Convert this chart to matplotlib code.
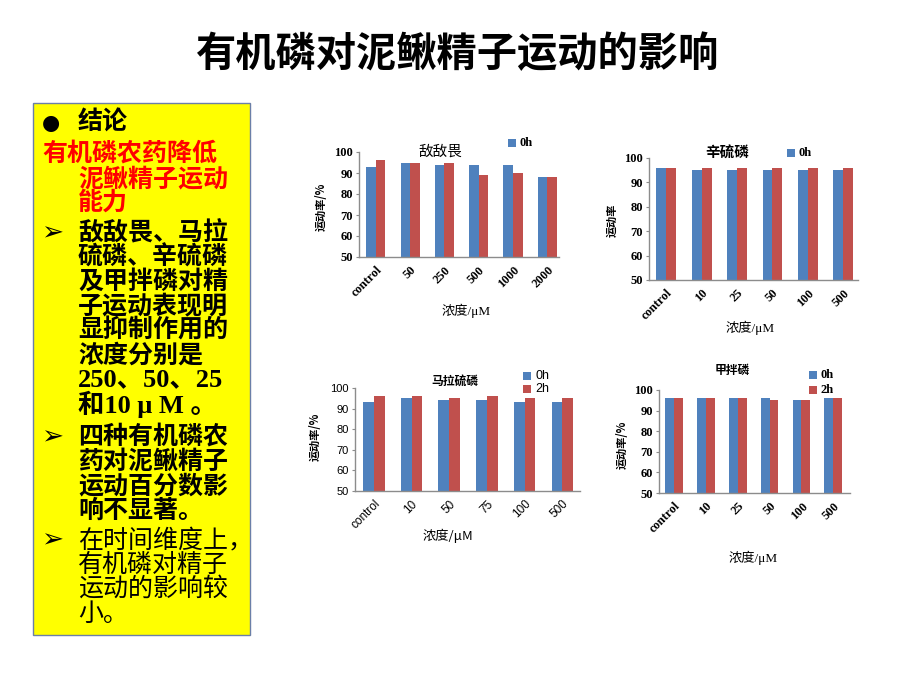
import matplotlib
matplotlib.use("Agg")
import matplotlib.pyplot as plt
import numpy as np
from matplotlib.patches import Rectangle

plt.rcParams['font.family'] = ['Noto Sans CJK SC', 'DejaVu Sans']

# ---------------- data ----------------
titles = ["敌敌畏", "辛硫磷", "马拉硫磷", "甲拌磷"]
cats_ddv = ["control", "50", "250", "500", "1000", "2000"]
cats_xll = ["control", "10", "25", "50", "100", "500"]
cats_mlll = ["control", "10", "50", "75", "100", "500"]
cats_jbl = ["control", "10", "25", "50", "100", "500"]

ddv_0h = [93, 95, 94, 94, 94, 88]
ddv_2h = [96, 95, 95, 89, 90, 88]
xll_0h = [96, 95, 95, 95, 95, 95]
xll_2h = [96, 96, 96, 96, 96, 96]
mlll_0h = [93, 95, 94, 94, 93, 93]
mlll_2h = [96, 96, 95, 96, 95, 95]
jbl_0h = [96, 96, 96, 96, 95, 96]
jbl_2h = [96, 96, 96, 95, 95, 96]

ylabels = ["运动率/%", "运动率", "运动率/%", "运动率/%"]
xlabel = "浓度/μM"
series_names = ["0h", "2h"]
yticks = [50, 60, 70, 80, 90, 100]

W, H = 920, 690
fig = plt.figure(figsize=(9.2, 6.9), dpi=100)
fig.patch.set_facecolor("white")


def fx(x):
    return x / W


def fy(y):
    return 1 - y / H


BLUE = "#4F81BD"
RED = "#C0504D"

serif_b = dict(family=['Liberation Serif', 'Noto Sans CJK SC'], weight='bold')
sans_n = dict(family=['Liberation Sans', 'Noto Sans CJK SC'], weight='normal')

# layout: (left, top, right, bottom) in pixels, xlim, fonts
charts = [
    dict(cats=cats_ddv, s0=ddv_0h, s1=ddv_2h, box=(359, 152, 559, 257), xlim=(-0.49, 5.34),
         tf=serif_b, title_xy=(440, 152), title_w='normal', title_fs=10.5, yfs=9, xfs=9,
         ylab_xy=(321, 207), xlab_xy=(466, 311), leg=[(512, 143)], bw=0.28),
    dict(cats=cats_xll, s0=xll_0h, s1=xll_2h, box=(649, 158, 858, 280), xlim=(-0.49, 5.42),
         tf=serif_b, title_xy=(727, 153), title_w='bold', title_fs=10.5, yfs=9, xfs=9,
         ylab_xy=(612, 220), xlab_xy=(750, 328), leg=[(791, 153)], bw=0.28),
    dict(cats=cats_mlll, s0=mlll_0h, s1=mlll_2h, box=(355, 388, 580, 491), xlim=(-0.5, 5.47),
         tf=sans_n, title_xy=(455, 381), title_w='bold', title_fs=8.5, yfs=8, xfs=8.5,
         ylab_xy=(315, 437), xlab_xy=(448, 536), leg=[(527, 376), (527, 389)], bw=0.285),
    dict(cats=cats_jbl, s0=jbl_0h, s1=jbl_2h, box=(659, 390, 850, 493), xlim=(-0.46, 5.52),
         tf=serif_b, title_xy=(732, 370), title_w='bold', title_fs=8.5, yfs=9, xfs=9,
         ylab_xy=(622, 445), xlab_xy=(753, 558), leg=[(813, 375), (813, 390)], bw=0.28),
]

for i, c in enumerate(charts):
    l, t, r, b = c["box"]
    ax = fig.add_axes([fx(l), fy(b), fx(r) - fx(l), fy(t) - fy(b)])
    x = np.arange(len(c["cats"]))
    bw = c["bw"]
    b0 = ax.bar(x - bw / 2, c["s0"], width=bw, color=BLUE, label=series_names[0])
    b1 = ax.bar(x + bw / 2, c["s1"], width=bw, color=RED, label=series_names[1])
    ax.set_ylim(50, 100)
    ax.set_xlim(*c["xlim"])
    ax.set_yticks(yticks)
    ax.set_xticks(x)
    tf = c["tf"]
    ax.set_yticklabels([str(v) for v in yticks], fontsize=c["yfs"], **tf)
    ax.set_xticklabels(c["cats"], rotation=45, ha='right', va='top',
                       rotation_mode='anchor', fontsize=c["xfs"], **tf)
    for s in ["top", "right"]:
        ax.spines[s].set_visible(False)
    for s in ["left", "bottom"]:
        ax.spines[s].set_color("#8c8c8c")
        ax.spines[s].set_linewidth(1.0)
    ax.tick_params(axis='y', length=2.5, width=0.8, color="#8c8c8c", pad=2)
    ax.tick_params(axis='x', length=0, pad=5)
    ax.patch.set_alpha(0)

    # title
    fig.text(fx(c["title_xy"][0]), fy(c["title_xy"][1]), titles[i], ha='center', va='center',
             fontsize=c["title_fs"], fontweight=c["title_w"])
    # y label
    fig.text(fx(c["ylab_xy"][0]), fy(c["ylab_xy"][1]), ylabels[i], ha='center', va='center',
             rotation=90, fontsize=8, fontweight='bold',
             family=['Noto Sans CJK SC', 'DejaVu Sans'])
    # x label
    if tf is serif_b:
        xl_fam = ['Liberation Serif', 'Noto Sans CJK SC']
    else:
        xl_fam = ['Noto Sans CJK SC', 'DejaVu Sans']
    fig.text(fx(c["xlab_xy"][0]), fy(c["xlab_xy"][1]), xlabel, ha='center', va='center',
             fontsize=9.5, family=xl_fam)
    # legend
    for k, (lx, ly) in enumerate(c["leg"]):
        sq = 8
        fig.patches.append(Rectangle((fx(lx - sq / 2), fy(ly + sq / 2)), sq / W, sq / H,
                                     transform=fig.transFigure, facecolor=[BLUE, RED][k],
                                     edgecolor='none'))
        fig.text(fx(lx + 8), fy(ly), series_names[k], ha='left', va='center',
                 fontsize=9, **tf)

# ---------------- main title ----------------
fig.text(fx(458), fy(55), "有机磷对泥鳅精子运动的影响", ha='center', va='center',
         fontsize=29, fontweight='bold')

# ---------------- yellow text box ----------------
fig.patches.append(Rectangle((fx(33), fy(635)), (250 - 33) / W, (635 - 103) / H,
                             transform=fig.transFigure, facecolor="#FFFF00",
                             edgecolor="#6b7fa8", linewidth=1.0))

FS = 18
cjk_b = dict(fontsize=FS, fontweight='bold', family=['Noto Sans CJK SC', 'DejaVu Sans'])
fig.text(fx(42), fy(123), "●", ha='left', va='center', fontsize=15,
         family=['DejaVu Sans'], color='black')
fig.text(fx(78), fy(123), "结论", ha='left', va='center', **cjk_b)

red_lines = [(42, 154, "有机磷农药降低"), (78, 179, "泥鳅精子运动"), (78, 203, "能力")]
for xx, yy, s in red_lines:
    fig.text(fx(xx), fy(yy), s, ha='left', va='center', color='#FF0000', **cjk_b)

para1 = ["敌敌畏、马拉", "硫磷、辛硫磷", "及甲拌磷对精", "子运动表现明", "显抑制作用的",
         "浓度分别是", "250、50、25", "和10 μ M 。"]
para2 = ["四种有机磷农", "药对泥鳅精子", "运动百分数影", "响不显著。"]
para3 = ["在时间维度上，", "有机磷对精子", "运动的影响较", "小。"]

step = 24.5


def arrow(y):
    fig.text(fx(41), fy(y), "➢", ha='left', va='center', fontsize=19,
             family=['DejaVu Sans'], color='black')


arrow(233)
for k, s in enumerate(para1):
    y = 233 + k * step
    if s[0].isdigit() or s.startswith("和"):
        fig.text(fx(78), fy(y), s, ha='left', va='center', fontsize=FS + 1,
                 fontweight='bold', family=['Liberation Serif', 'Noto Sans CJK SC'])
    else:
        fig.text(fx(78), fy(y), s, ha='left', va='center', **cjk_b)

arrow(437)
for k, s in enumerate(para2):
    fig.text(fx(78), fy(437 + k * step), s, ha='left', va='center', **cjk_b)

arrow(540)
for k, s in enumerate(para3):
    fig.text(fx(78), fy(540 + k * step), s, ha='left', va='center', fontsize=FS,
             fontweight='normal', family=['Noto Sans CJK SC', 'DejaVu Sans'])

fig.savefig("out.png", dpi=100, facecolor="white")
